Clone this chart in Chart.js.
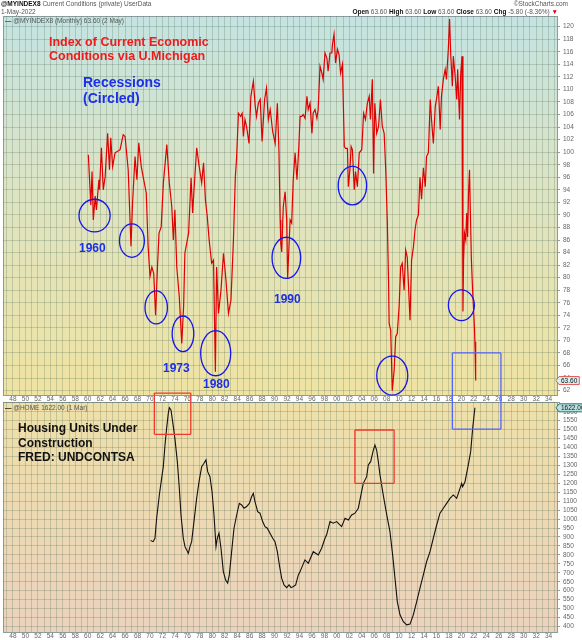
<!DOCTYPE html>
<html lang="en">
<head>
<meta charset="UTF-8" />
<title>Current Conditions vs Housing Units Under Construction</title>
<script src="https://cdn.jsdelivr.net/npm/chart.js"></script>
<style>
  body { margin: 0; background: #fff; font-family: Arial, "Liberation Sans", sans-serif; }
  #wrap { position: relative; width: 582px; height: 640px; overflow: hidden; }
  canvas { position: absolute; left: 0; }
  #icChart { top: 0; }
  #homeChart { top: 402px; }
  .t { position: absolute; white-space: nowrap; }
  .small { font-size: 6.5px; color: #555; }
  .note { font-weight: bold; }
  .red { color: #ee1b1b; font-size: 12.5px; line-height: 13.5px; }
  .blue { color: #1b2fe8; }
  .yr { font-size: 12px; line-height: 12px; }
</style>
</head>
<body>
<div id="wrap">
  <canvas id="icChart" width="582" height="402"></canvas>
  <canvas id="homeChart" width="582" height="238"></canvas>

  <div class="t small" style="left:1px;top:0px"><b style="color:#111">@MYINDEX8</b> Current Conditions (private) UserData</div>
  <div class="t small" style="left:1px;top:8px">1-May-2022</div>
  <div class="t small" style="right:14px;top:0px">&copy;StockCharts.com</div>
  <div class="t small" style="right:24px;top:8px"><b style="color:#111">Open</b> 63.60 <b style="color:#111">High</b> 63.60 <b style="color:#111">Low</b> 63.60 <b style="color:#111">Close</b> 63.60 <b style="color:#111">Chg</b> -5.80 (-8.36%) <span style="color:#d00">&#9660;</span></div>
  <div class="t small" style="left:5px;top:17px"><span style="color:#e00000;font-weight:bold">&#8212;</span> <span id="icLegend"></span></div>
  <div class="t small" style="left:5px;top:404px"><span style="color:#111;font-weight:bold">&#8212;</span> <span id="homeLegend"></span></div>

  <div class="t note red" style="left:49px;top:36px">Index of Current Economic<br>Conditions via U.Michigan</div>
  <div class="t note blue" style="left:83px;top:74px;font-size:14px;line-height:16px">Recessions<br>(Circled)</div>
  <div class="t note blue yr" style="left:79px;top:242px">1960</div>
  <div class="t note blue yr" style="left:163px;top:362px">1973</div>
  <div class="t note blue yr" style="left:203px;top:378px">1980</div>
  <div class="t note blue yr" style="left:274px;top:293px">1990</div>
  <div class="t note" style="left:18px;top:421px;font-size:12px;line-height:14.7px;color:#111">Housing Units Under<br>Construction<br>FRED: UNDCONTSA</div>
</div>

<script>
// Index of Current Economic Conditions (U. Michigan), monthly
const icYears = [
  1960.1, 1960.5, 1960.7, 1960.9, 1961.2, 1961.4, 1961.8, 1961.9, 1962.2, 1962.5, 1962.8, 1963.2, 1963.5, 1963.7, 1964.0, 1964.4, 1965.2, 1965.7, 1966.0, 1966.5, 1966.95, 1967.2, 1967.6, 1967.9, 1968.2, 1968.6, 1968.9, 1969.4, 1969.7,
  1970.0, 1970.3, 1970.6, 1970.9, 1971.2, 1971.45, 1971.8, 1972.15, 1972.7, 1973.1, 1973.5, 1973.75, 1974.0, 1974.3, 1974.7, 1975.1, 1975.4, 1975.6, 1976.2, 1976.6, 1976.85, 1977.1, 1977.5, 1977.9, 1978.3, 1978.6, 1978.9, 1979.2, 1979.5, 1979.9,
  1980.2, 1980.5, 1980.7, 1981.0, 1981.4, 1981.8, 1982.2, 1982.6, 1983.0, 1983.4, 1983.7, 1983.9, 1984.2, 1984.55, 1984.8, 1985.0, 1985.25, 1985.5, 1985.9, 1986.2, 1986.6, 1986.9, 1987.1, 1987.4, 1987.7, 1988.0, 1988.4, 1988.7, 1989.0, 1989.3, 1989.7,
  1990.1, 1990.45, 1990.7, 1990.9, 1991.0, 1991.15, 1991.4, 1991.7, 1991.95, 1992.1, 1992.5, 1992.75, 1993.0, 1993.3, 1993.6, 1993.9, 1994.1, 1994.35, 1994.6, 1994.9, 1995.2, 1995.4, 1995.7, 1996.0, 1996.2, 1996.5, 1996.8, 1997.0, 1997.3, 1997.6, 1997.8, 1998.1, 1998.4, 1998.6, 1998.9, 1999.2, 1999.3, 1999.55, 1999.8,
  2000.1, 2000.35, 2000.6, 2000.9, 2001.2, 2001.4, 2001.7, 2001.85, 2002.1, 2002.3, 2002.5, 2002.8, 2003.0, 2003.3, 2003.6, 2004.0, 2004.3, 2004.6, 2004.9, 2005.2, 2005.4, 2005.7, 2005.9, 2006.1, 2006.4, 2006.7, 2007.0, 2007.3, 2007.6, 2007.85, 2008.1, 2008.3, 2008.4, 2008.65, 2008.9, 2009.2, 2009.45, 2009.7,
  2010.0, 2010.25, 2010.5, 2010.8, 2011.05, 2011.3, 2011.75, 2012.0, 2012.3, 2012.55, 2012.8, 2013.1, 2013.35, 2013.6, 2013.9, 2014.2, 2014.4, 2014.7, 2015.0, 2015.2, 2015.5, 2015.8, 2016.0, 2016.3, 2016.6, 2016.8, 2017.1, 2017.4, 2017.6, 2017.9, 2018.1, 2018.3, 2018.55, 2018.7, 2019.0, 2019.25, 2019.4, 2019.7, 2019.9,
  2020.1, 2020.25, 2020.35, 2020.5, 2020.7, 2020.85, 2021.0, 2021.15, 2021.3, 2021.45, 2021.6, 2021.8, 2021.95, 2022.1, 2022.2, 2022.25, 2022.33
];
const icValues = [
  99.6, 91.6, 96.9, 89.2, 93.0, 90.8, 95.6, 94.0, 100.7, 94.0, 96.1, 103.0, 97.2, 102.3, 97.7, 99.9, 100.4, 102.8, 102.5, 97.2, 85.0, 91.9, 99.3, 95.6, 101.5, 97.7, 96.1, 93.5, 85.0,
  80.2, 81.7, 80.7, 74.0, 81.7, 87.1, 88.1, 95.1, 101.2, 95.1, 91.3, 86.0, 90.8, 81.7, 77.0, 69.5, 75.4, 83.9, 87.1, 95.9, 90.3, 94.5, 100.7, 97.7, 95.1, 98.3, 92.4, 89.7, 86.0, 82.3,
  82.8, 65.0, 81.7, 74.3, 78.0, 83.9, 79.6, 74.3, 76.4, 86.0, 96.0, 99.0, 106.2, 105.7, 106.2, 102.5, 105.2, 104.1, 101.4, 108.9, 111.3, 107.3, 105.7, 107.8, 108.4, 101.7, 108.4, 110.2, 105.2, 106.8, 103.3,
  101.4, 107.8, 100.4, 89.2, 85.5, 84.1, 91.3, 93.7, 89.2, 79.9, 89.2, 88.7, 95.6, 99.9, 95.6, 100.9, 105.7, 105.7, 106.0, 105.4, 108.9, 106.8, 107.8, 103.0, 106.2, 106.8, 105.4, 106.8, 113.7, 112.6, 111.6, 115.8, 115.0, 112.9, 115.8, 115.8, 117.2, 118.8, 114.2,
  116.4, 115.6, 112.6, 114.0, 100.9, 100.6, 100.6, 94.5, 97.2, 100.9, 100.4, 94.0, 96.9, 94.5, 99.9, 100.4, 106.2, 105.2, 107.8, 108.9, 105.2, 111.6, 96.6, 107.8, 103.0, 104.1, 108.4, 104.1, 103.0, 97.2, 89.2, 79.6, 72.7, 71.6, 62.0, 65.2, 70.6, 71.1,
  75.4, 81.7, 82.3, 78.0, 84.4, 83.3, 73.2, 82.8, 84.9, 87.6, 89.2, 90.0, 96.0, 92.5, 97.5, 94.5, 99.3, 99.9, 108.4, 105.2, 101.4, 107.3, 108.4, 110.5, 103.6, 108.9, 111.6, 113.2, 111.6, 116.4, 121.2, 115.3, 110.5, 115.3, 112.1, 108.4, 113.2, 105.2, 112.6,
  115.3, 74.6, 82.8, 87.1, 86.0, 90.3, 86.5, 93.5, 97.2, 90.0, 83.0, 78.0, 75.0, 72.0, 68.5, 69.8, 63.6
];

// Housing units under construction (FRED UNDCONTSA, thousands)
const homeYears = [
  1970.1, 1970.5, 1970.8, 1971.07, 1971.5, 1971.87, 1972.14, 1972.41, 1972.67, 1972.94,
  1973.1, 1973.37, 1973.64, 1974.0, 1974.39, 1974.71, 1974.98, 1975.35, 1975.62, 1975.89,
  1976.15, 1976.42, 1976.69, 1977.06, 1977.49, 1977.92, 1978.3, 1978.67, 1978.99, 1979.26,
  1979.63, 1979.96, 1980.28, 1980.6, 1980.81, 1981.08, 1981.4, 1981.78, 1982.15, 1982.47,
  1982.74, 1983.11, 1983.49, 1983.92, 1984.34, 1984.72, 1985.09, 1985.52, 1985.95, 1986.33,
  1986.59, 1986.86, 1987.29, 1987.66, 1988.09, 1988.47, 1988.84, 1989.27, 1989.7, 1990.07,
  1990.45, 1990.77, 1991.14, 1991.52, 1991.95, 1992.32, 1992.64, 1993.02, 1993.39, 1993.82,
  1994.08, 1994.88, 1995.42, 1996.22, 1997.02, 1997.56, 1998.1, 1998.36, 1998.9, 1999.43,
  1999.97, 2000.77, 2001.31, 2001.84, 2002.38, 2002.91, 2003.45, 2003.98, 2004.25, 2004.79,
  2005.05, 2005.43, 2005.86, 2006.12, 2006.39, 2006.66, 2006.93, 2007.36, 2007.73, 2008.11,
  2008.53, 2008.96, 2009.34, 2009.71, 2010.14, 2010.68, 2011.21, 2011.75, 2012.28, 2012.82,
  2013.35, 2013.89, 2014.42, 2014.96, 2015.49, 2016.03, 2016.56, 2017.1, 2017.63, 2018.17,
  2018.7, 2019.24, 2019.51, 2020.04, 2020.2, 2020.58, 2021.11, 2021.49, 2021.81, 2022.17
];
const homeValues = [
  880, 874, 893, 1005, 1135, 1228, 1293, 1414, 1507, 1591,
  1623, 1610, 1545, 1451, 1321, 1172, 1023, 893, 846, 828,
  809, 846, 874, 986, 1116, 1219, 1293, 1312, 1331, 1265,
  1237, 1154, 1023, 846, 893, 921, 837, 707, 660, 642,
  688, 818, 949, 1023, 1088, 1079, 1061, 1070, 1088, 1126,
  1144, 1098, 1042, 1033, 986, 958, 949, 921, 893, 874,
  818, 744, 670, 632, 617, 632, 617, 623, 632, 688,
  705, 772, 753, 818, 800, 837, 893, 912, 986, 977,
  986, 958, 1005, 995, 1023, 1033, 1061, 1154, 1200, 1237,
  1303, 1321, 1386, 1414, 1386, 1321, 1247, 1154, 1079, 1005,
  930, 800, 669, 539, 465, 427, 409, 413, 465, 539,
  614, 688, 763, 818, 893, 967, 1033, 1061, 1088, 1116,
  1135, 1116, 1144, 1200, 1181, 1209, 1303, 1377, 1507, 1622
];

// recession circles on the upper panel (centre year / index level)
const recessionYears = [1961.1, 1967.1, 1971.0, 1975.3, 1980.55, 1991.9, 2002.5, 2008.9, 2020.0];
const recessionLevels = [89.9, 85.9, 75.25, 71.05, 67.96, 83.17, 94.66, 64.4, 75.6];

const FONT = 'Arial, "Liberation Sans", sans-serif';
const GRID = 'rgba(95,120,95,0.28)';
const EDGE = '#8a9c9c';

function yearLabel(v) {
    const y = Math.round(v);
    return y % 2 === 0 ? String(y % 100).padStart(2, '0') : '';
}

function xScale(h) {
    return {
        type: 'linear', min: 1946.4, max: 2035.35,
        afterFit(s) { s.height = h; s.paddingLeft = 0; s.paddingRight = 0; },
        grid: { color: GRID, drawTicks: false, tickLength: 0 },
        border: { color: EDGE },
        ticks: { stepSize: 1, autoSkip: false, maxRotation: 0, includeBounds: false, padding: 0,
                 font: { size: 6.5, family: FONT }, color: '#666', callback: yearLabel }
    };
}

function yScale(min, max, step, hide) {
    return {
        type: 'linear', position: 'right', min: min, max: max,
        afterFit(s) { s.width = 25; s.paddingTop = 0; s.paddingBottom = 0; },
        grid: { color: GRID, tickLength: 3, tickColor: '#999' },
        border: { color: EDGE },
        ticks: { stepSize: step, autoSkip: false, includeBounds: false, padding: 3,
                 font: { size: 6.5, family: FONT }, color: '#666',
                 callback: v => (hide && hide(v)) ? '' : Math.round(v) }
    };
}

function drawTag(ctx, x, y, text, fill, stroke) {
    ctx.font = '6.5px ' + FONT;
    const w = ctx.measureText(text).width + 4;
    ctx.beginPath();
    ctx.moveTo(x, y);
    ctx.lineTo(x + 3, y - 4);
    ctx.lineTo(x + 3 + w, y - 4);
    ctx.lineTo(x + 3 + w, y + 4);
    ctx.lineTo(x + 3, y + 4);
    ctx.closePath();
    ctx.fillStyle = fill; ctx.fill();
    ctx.strokeStyle = stroke; ctx.lineWidth = 1; ctx.stroke();
    ctx.fillStyle = '#111';
    ctx.textBaseline = 'middle';
    ctx.fillText(text, x + 5, y + 0.5);
}

// background, frame, circles, boxes and last-value tag for one panel
function makePanel(cfg) {
    return {
        id: 'panel',
        beforeDraw(chart) {
            const { ctx, chartArea: a } = chart;
            const g = ctx.createLinearGradient(0, a.top, 0, a.bottom);
            cfg.stops.forEach(s => g.addColorStop(s[0], s[1]));
            ctx.save();
            ctx.fillStyle = g;
            ctx.fillRect(a.left, a.top, a.right - a.left, a.bottom - a.top);
            ctx.strokeStyle = EDGE;
            ctx.lineWidth = 1;
            ctx.strokeRect(a.left + 0.5, a.top + 0.5, a.right - a.left, a.bottom - a.top);
            ctx.restore();
        },
        afterDatasetsDraw(chart) {
            const { ctx, scales: { x, y } } = chart;
            ctx.save();
            ctx.lineWidth = 1.3;
            (cfg.circles || []).forEach(c => {
                const cx = x.getPixelForValue(c.x), cy = y.getPixelForValue(c.y);
                const rx = Math.abs(x.getPixelForValue(c.x + c.rx) - cx);
                const ry = Math.abs(y.getPixelForValue(c.y + c.ry) - cy);
                ctx.strokeStyle = '#1414f0';
                ctx.beginPath();
                ctx.ellipse(cx, cy, rx, ry, 0, 0, Math.PI * 2);
                ctx.stroke();
            });
            (cfg.boxes || []).forEach(b => {
                const x0 = x.getPixelForValue(b.x0), x1 = x.getPixelForValue(b.x1);
                const y0 = b.top == null ? 0 : y.getPixelForValue(b.top);
                const y1 = b.bottom == null ? chart.height : y.getPixelForValue(b.bottom);
                ctx.strokeStyle = b.color;
                ctx.beginPath();
                ctx.moveTo(x0, y0); ctx.lineTo(x0, y1);
                ctx.moveTo(x1, y0); ctx.lineTo(x1, y1);
                if (b.top != null) { ctx.moveTo(x0, y0); ctx.lineTo(x1, y0); }
                if (b.bottom != null) { ctx.moveTo(x0, y1); ctx.lineTo(x1, y1); }
                ctx.stroke();
            });
            ctx.restore();
        },
        afterDraw(chart) {
            const { ctx, chartArea: a, scales: { y } } = chart;
            const data = chart.data.datasets[0].data;
            const last = data[data.length - 1].y;
            ctx.save();
            drawTag(ctx, a.right - 1, y.getPixelForValue(last), last.toFixed(2), cfg.tagFill, cfg.tagStroke);
            ctx.restore();
        }
    };
}

const RED_BOX = '#f0392c', BLUE_BOX = '#5264ff';

const icPanel = makePanel({
    stops: [[0, '#c4e3e2'], [0.45, '#dce4c4'], [1, '#f0e3a2']],
    circles: recessionYears.map((yr, i) => ({
        x: yr, y: recessionLevels[i],
        rx: [2.5, 2.0, 1.8, 1.74, 2.41, 2.3, 2.28, 2.49, 2.09][i],
        ry: [2.6, 2.66, 2.63, 2.84, 3.59, 3.27, 3.06, 3.11, 2.44][i]
    })),
    boxes: [
        { x0: 1970.7, x1: 1976.55, top: 61.6, bottom: null, color: RED_BOX },
        { x0: 2018.55, x1: 2026.35, top: 68.0, bottom: null, color: BLUE_BOX }
    ],
    tagFill: '#d6f0ee', tagStroke: '#e05a5a'
});

const homePanel = makePanel({
    stops: [[0, '#efe0a8'], [1, '#ebd2be']],
    boxes: [
        { x0: 1970.7, x1: 1976.55, top: null, bottom: 1474, color: RED_BOX },
        { x0: 2002.9, x1: 2009.2, top: 1498, bottom: 1200, color: RED_BOX },
        { x0: 2018.55, x1: 2026.35, top: null, bottom: 1503, color: BLUE_BOX }
    ],
    tagFill: '#b8e2e0', tagStroke: '#2f6f70'
});

new Chart(document.getElementById('icChart'), {
    type: 'line',
    data: { datasets: [{ data: icYears.map((x, i) => ({ x: x, y: icValues[i] })),
                         borderColor: '#e00000', borderWidth: 1.2, pointRadius: 0, tension: 0 }] },
    options: {
        responsive: false, animation: false, events: [],
        layout: { padding: { left: 3, top: 16, right: 0, bottom: 0 } },
        plugins: { legend: { display: false }, tooltip: { enabled: false } },
        scales: { x: xScale(7), y: yScale(61.3, 121.7, 2) }
    },
    plugins: [icPanel]
});

new Chart(document.getElementById('homeChart'), {
    type: 'line',
    data: { datasets: [{ data: homeYears.map((x, i) => ({ x: x, y: homeValues[i] })),
                         borderColor: '#111', borderWidth: 1.1, pointRadius: 0, tension: 0 }] },
    options: {
        responsive: false, animation: false, events: [],
        layout: { padding: { left: 3, top: 0, right: 0, bottom: 0 } },
        plugins: { legend: { display: false }, tooltip: { enabled: false } },
        scales: { x: xScale(8), y: yScale(369, 1654.5, 50, v => v > 1600) }
    },
    plugins: [homePanel]
});

document.getElementById('icLegend').textContent =
    '@MYINDEX8 (Monthly) ' + icValues[icValues.length - 1].toFixed(2) + ' (2 May)';
document.getElementById('homeLegend').textContent =
    '@HOME ' + homeValues[homeValues.length - 1].toFixed(2) + ' (1 Mar)';
</script>
</body>
</html>
